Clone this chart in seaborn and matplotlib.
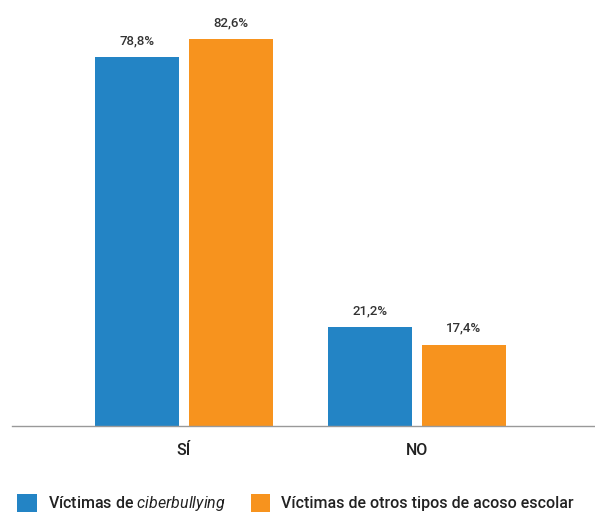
import pandas as pd
import seaborn as sns
import matplotlib.pyplot as plt
from matplotlib import font_manager

respuestas = ['SÍ', 'NO']
series = ['Víctimas de $\\mathit{ciberbullying}$', 'Víctimas de otros tipos de acoso escolar']
ciber = [78.8, 21.2]
otros = [82.6, 17.4]
colores = ['#2384c5', '#f7931e']

sns.set_style('white')
names = {f.name for f in font_manager.fontManager.ttflist}
base = 'Liberation Sans Narrow' if 'Liberation Sans Narrow' in names else 'Roboto'
plt.rcParams['font.family'] = [base, 'DejaVu Sans']
plt.rcParams['mathtext.fontset'] = 'custom'
plt.rcParams['mathtext.it'] = base + ':italic'
plt.rcParams['mathtext.rm'] = base

df = pd.DataFrame({
    'respuesta': respuestas * 2,
    'serie': [series[0]] * 2 + [series[1]] * 2,
    'valor': ciber + otros,
})

fig = plt.figure(figsize=(5.95, 5.12), dpi=100)
ax = fig.add_axes([12 / 595, 1 - 426 / 512, 1 - 12 / 595, 398 / 512])
sns.barplot(data=df, x='respuesta', y='valor', hue='serie', hue_order=series,
            palette=colores, width=0.806, gap=0.107, saturation=1,
            linewidth=0, ax=ax)

for cont in ax.containers:
    ax.bar_label(cont, labels=[f'{v:.1f}%'.replace('.', ',') for v in cont.datavalues],
                 padding=7, fontsize=9.5, fontweight='medium', color='#333333')

ax.set_xlim(-0.738, 1.764)
ax.set_ylim(0, 85)
ax.set_xlabel('')
ax.set_ylabel('')
ax.set_yticks([])
ax.tick_params(axis='x', length=0, labelsize=11.5, pad=12, colors='#222222')
for lab in ax.get_xticklabels():
    lab.set_fontweight('medium')
for side in ['top', 'right', 'left']:
    ax.spines[side].set_visible(False)
ax.spines['bottom'].set_color('#999999')
ax.spines['bottom'].set_linewidth(1)

handles, labels = ax.get_legend_handles_labels()
ax.get_legend().remove()
fig.legend(handles, labels, ncol=2, loc='lower left', bbox_to_anchor=(0.005, -0.03),
           frameon=False, prop={'size': 11.5, 'weight': 'medium'},
           handlelength=1.2, handleheight=1.35,
           handletextpad=0.7, columnspacing=1.6, labelcolor='#222222')

fig.savefig('out.png', dpi=100)
